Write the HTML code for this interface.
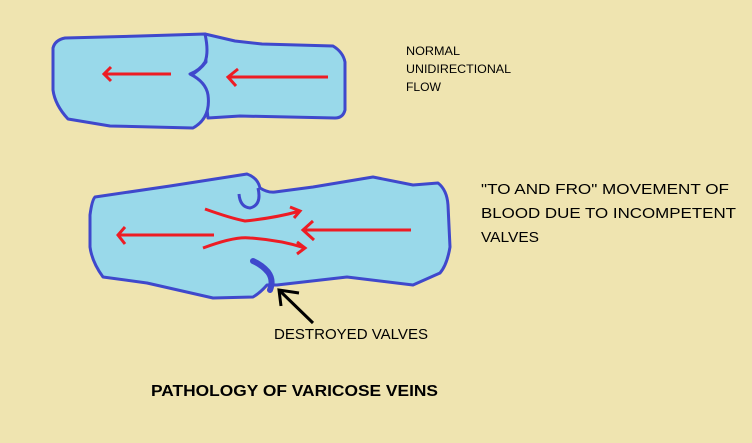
<!DOCTYPE html>
<html><head><style>html,body{margin:0;padding:0;background:#efe4b0;}svg{display:block}</style></head>
<body>
<svg width="752" height="443" viewBox="0 0 752 443" xmlns="http://www.w3.org/2000/svg" font-family="Liberation Sans, sans-serif">
<rect width="752" height="443" fill="#efe4b0"/>
<!-- top vein -->
<g fill="#99d9ea" stroke="#3f48cc" stroke-width="3" stroke-linejoin="round">
<path d="M205,34 L235,41 L262,44 L333,46 Q343,52 345,62 L345,110 Q343,118 335,118 L240,116 L208,118 Q206,100 205,92 Q200,80 190,76 Q200,70 206,62 Z"/>
<path d="M205,34 Q209,52 205,62 Q200,70 190,74 Q206,82 208,95 Q211,118 193,128 L110,126 L68,119 Q55,105 53,90 L53,48 Q55,40 65,38 L140,36 Z"/>
</g>
<g stroke="#ed1c24" stroke-width="3" fill="none">
<path d="M171,74 L104,74 M111,67 L104,74 L111,81"/>
<path d="M328,77 L228,77 M238,69 L228,77 L236,86"/>
</g>
<!-- bottom vein -->
<path d="M95,197 L170,186 L247,174 Q258,178 260,188 Q268,193 275,192 L313,187 L373,177 L413,185 L438,183 Q447,190 448,205 L450,247 Q447,265 440,273 L413,285 L347,277 L277,285 L267,285 Q260,293 253,297 L213,298 L147,283 L103,277 Q92,262 90,247 L90,215 Q92,200 95,197 Z" fill="#99d9ea" stroke="#3f48cc" stroke-width="3" stroke-linejoin="round"/>
<path d="M239,194 Q240,207 250,208 Q262,205 258,188" fill="none" stroke="#3f48cc" stroke-width="3"/>
<path d="M253,261 Q262,265 268,272 Q274,280 270,290" fill="none" stroke="#3f48cc" stroke-width="6" stroke-linecap="round"/>
<g stroke="#ed1c24" stroke-width="3" fill="none">
<path d="M214,235 L118,235 M125,227 L118,235 L125,244"/>
<path d="M411,230 L303,230 M313,221 L303,230 L314,240"/>
<path d="M205,209 Q230,218 245,221 Q275,218 300,211 M290,207 L300,211 L294,218"/>
<path d="M203,248 Q235,236 250,238 Q280,240 305,248 M297,242 L305,248 L297,254"/>
</g>
<g stroke="#000" stroke-width="3" fill="none">
<path d="M313,323 L279,290 M281,306 L279,290 L299,293"/>
</g>
<g fill="#000" lengthAdjust="spacingAndGlyphs">
<text x="406" y="55" font-size="12" textLength="54" lengthAdjust="spacingAndGlyphs">NORMAL</text>
<text x="406" y="73" font-size="12" textLength="105" lengthAdjust="spacingAndGlyphs">UNIDIRECTIONAL</text>
<text x="406" y="91" font-size="12" textLength="35" lengthAdjust="spacingAndGlyphs">FLOW</text>
<text x="481" y="194" font-size="15" textLength="248" lengthAdjust="spacingAndGlyphs">"TO AND FRO" MOVEMENT OF</text>
<text x="481" y="218" font-size="15" textLength="255" lengthAdjust="spacingAndGlyphs">BLOOD DUE TO INCOMPETENT</text>
<text x="481" y="242" font-size="15" textLength="58" lengthAdjust="spacingAndGlyphs">VALVES</text>
<text x="274" y="339" font-size="15" textLength="154" lengthAdjust="spacingAndGlyphs">DESTROYED VALVES</text>
<text x="151" y="396" font-size="16" font-weight="bold" textLength="287" lengthAdjust="spacingAndGlyphs">PATHOLOGY OF VARICOSE VEINS</text>
</g>
</svg>
</body></html>
